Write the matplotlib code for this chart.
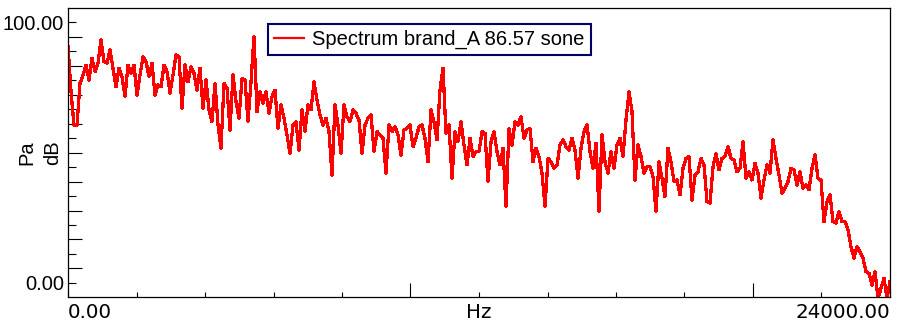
import numpy as np
import matplotlib
matplotlib.use("Agg")
import matplotlib.pyplot as plt

plt.rcParams['font.family'] = ['Liberation Sans', 'DejaVu Sans']

# Spektrum (dB), równomierne prążki 0..24000 Hz
level_db = [
    90.7, 73.4, 60.6, 60.6, 76.6, 79.8, 83.6, 77.9, 86.2, 81.1,
    84.3, 93.2, 84.9, 84.3, 89.4, 82.4, 75.3, 82.4, 79.2, 71.5,
    83.6, 80.4, 83.6, 72.1, 79.8, 86.8, 84.9, 79.2, 84.3, 72.1,
    76.0, 75.3, 83.6, 81.1, 72.8, 79.8, 87.5, 86.8, 67.0, 83.6,
    77.2, 83.0, 80.4, 74.0, 82.4, 67.0, 77.9, 66.4, 61.9, 76.6,
    60.6, 51.7, 76.6, 74.7, 58.7, 79.8, 69.6, 63.2, 78.5, 77.9,
    61.9, 77.2, 94.5, 65.7, 73.4, 68.9, 73.4, 65.1, 71.5, 74.0,
    59.3, 68.3, 63.2, 56.8, 49.7, 60.6, 61.9, 51.0, 66.4, 58.1,
    68.3, 66.4, 77.2, 70.2, 64.5, 60.6, 63.2, 58.1, 41.4, 68.3,
    60.6, 49.7,
    68.3, 63.8, 61.9, 66.4, 65.1, 62.5, 49.7, 60.6, 63.2, 64.5,
    50.4, 58.1, 56.8, 55.5, 42.1, 60.6, 58.1, 60.0, 56.8, 49.1,
    58.7, 59.3, 60.6, 52.3, 55.5, 60.0, 60.6, 55.5, 46.5, 66.4,
    61.9, 54.9, 74.0, 82.4, 57.4, 60.6, 40.2, 58.1, 54.2, 61.9,
    52.9, 45.3, 55.5, 48.5, 50.4, 50.4, 58.1, 57.4, 38.9, 54.2,
    58.1, 50.4, 45.3, 51.7, 29.3, 59.3, 52.9, 61.9, 60.6, 63.8,
    55.5, 58.7, 59.3, 46.5, 51.7, 48.5, 42.1, 29.3, 47.8, 46.5,
    44.0, 45.3, 52.9, 54.9, 52.3, 51.0, 55.5, 51.0, 40.2, 51.7,
    58.1, 60.6, 50.4, 44.0, 53.6, 27.4, 56.8, 46.5, 42.1, 50.4,
    44.0,
    52.9, 55.5, 48.5, 62.5, 73.4, 65.7, 39.5, 52.9, 48.5, 42.1,
    44.6, 44.6, 40.8, 27.4, 46.5, 40.2, 33.1, 51.7, 46.5, 38.9,
    39.5, 33.8, 44.0, 47.8, 48.5, 31.8, 41.4, 42.7, 47.8, 45.3,
    31.2, 30.6, 44.6, 49.7, 43.4, 47.8, 48.5, 52.3, 47.8, 47.2,
    42.7, 44.0, 54.2, 40.2, 42.7, 39.5, 45.9, 42.1, 32.5, 39.5,
    45.3, 42.1, 54.9, 47.8, 41.4, 34.4, 36.3, 38.9, 44.0, 43.4,
    37.6, 42.7, 36.3, 37.6, 35.7, 44.0, 49.1, 40.2, 39.5, 23.5,
    31.2, 33.8, 23.5, 22.9, 27.4, 23.5, 23.5, 20.3, 13.9, 9.5,
    13.9, 12.0, 9.5, 4.3, 3.7, -0.8, 4.3, -6.0, -2.0, 1.8,
    -6.0, 0.5,
]
f_max = 24000.0
freq = np.linspace(0, f_max, len(level_db))

label = 'Spectrum brand_A 86.57 sone'

fig = plt.figure(figsize=(8.98, 3.27), dpi=100)
ax = fig.add_axes([68/898, 30/327, 822/898, 289/327])

ax.plot(freq, level_db, color='#ff0000', lw=1.6, antialiased=False, label=label)

ax.set_xlim(0, f_max)
ax.set_ylim(-5.4, 105.5)

# Os Y: krotkie kreski parzyste, dlugie nieparzyste
yt = np.arange(19) * 100 / 18
ax.set_yticks(yt[::2])
ax.set_yticklabels(['0.00'] + [''] * 8 + ['100.00'])
ax.set_yticks(yt[1::2], minor=True)
ax.tick_params(axis='y', which='major', direction='in', length=5.5, width=0.8,
               labelsize=14.5, pad=3)
ax.tick_params(axis='y', which='minor', direction='in', length=10.3, width=0.8)

# Os X
ax.set_xticks([10000, 20000])
ax.set_xticks(np.arange(0, 24001, 2000), minor=True)
ax.tick_params(axis='x', which='major', direction='in', length=10.3, width=0.8,
               labelbottom=False)
ax.tick_params(axis='x', which='minor', direction='in', length=3.3, width=0.8)

for s in ax.spines.values():
    s.set_linewidth(0.9)

xfont = dict(family='DejaVu Sans', fontsize=14.3, va='center')
fig.text(68/898, 1 - 313/327, '0.00', ha='left', **xfont)
fig.text(479/898, 1 - 312/327, 'Hz', ha='center', **xfont)
fig.text(890/898, 1 - 313/327, '24000.00', ha='right', **xfont)

fig.text(27/898, 1 - 153/327, 'Pa', rotation=90, ha='center', va='center', fontsize=14.5)
fig.text(53/898, 1 - 153/327, 'dB', rotation=90, ha='center', va='center', fontsize=14.5)

leg = ax.legend(loc='upper left', bbox_to_anchor=(268/898, 1 - 24/327),
                bbox_transform=fig.transFigure, borderaxespad=0, borderpad=0.3,
                handlelength=1.5, handletextpad=0.4, fontsize=14.5,
                fancybox=False, framealpha=1, edgecolor='#000066')
leg.get_frame().set_linewidth(1.5)

fig.savefig('out.png', dpi=100)
